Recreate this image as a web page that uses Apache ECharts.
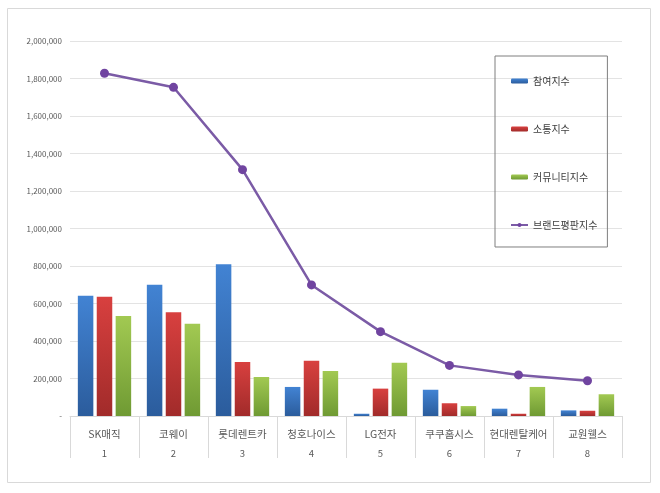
<!DOCTYPE html>
<html><head><meta charset="utf-8">
<script src="https://cdn.jsdelivr.net/npm/echarts@6/dist/echarts.min.js"></script>
<style>html,body{margin:0;padding:0;background:#fff}#c{width:660px;height:493px}</style>
</head><body><div id="c"></div>
<script>
const categories = ['SK매직','코웨이','롯데렌트카','청호나이스','LG전자','쿠쿠홈시스','현대렌탈케어','교원웰스'];
const ranks = ['1','2','3','4','5','6','7','8'];
const participation = [641000, 700000, 809000, 155000, 12000, 140000, 39000, 30000];
const communication = [636000, 553000, 288000, 295000, 146000, 68000, 12000, 28000];
const community = [533000, 492000, 208000, 240000, 284000, 53000, 155000, 116000];
const brandIndex = [1828000, 1753000, 1314000, 699000, 450000, 270000, 219000, 188000];
const seriesNames = ['참여지수','소통지수','커뮤니티지수','브랜드평판지수'];

const grad = (a, b) => new echarts.graphic.LinearGradient(0, 0, 0, 1, [{offset: 0, color: a}, {offset: 1, color: b}]);
const font = '"Noto Sans CJK KR", "Noto Sans", sans-serif';
const chart = echarts.init(document.getElementById('c'));
chart.setOption({
  animation: false,
  textStyle: {fontFamily: font},
  graphic: [{type: 'rect', shape: {x: 7.5, y: 8.5, width: 643, height: 474}, style: {fill: 'none', stroke: '#d9d9d9', lineWidth: 1}, silent: true, z: -1}],
  grid: {left: 70, right: 38, top: 41, bottom: 77},
  legend: {
    orient: 'vertical', left: 495, top: 56,
    data: seriesNames,
    itemWidth: 17, itemHeight: 5, itemGap: 38,
    padding: [20, 10, 17, 15],
    borderColor: '#7f7f7f', borderWidth: 1,
    textStyle: {fontSize: 10, color: '#404040', fontFamily: font}
  },
  xAxis: {
    type: 'category', data: categories,
    axisLine: {lineStyle: {color: '#d9d9d9'}},
    axisTick: {show: true, length: 42, interval: 0, lineStyle: {color: '#d9d9d9'}},
    axisLabel: {
      interval: 0, margin: 9,
      formatter: (v, i) => '{a|' + v + '}\n{b|' + ranks[i] + '}',
      rich: {
        a: {fontSize: 10.5, color: '#595959', lineHeight: 19, fontFamily: font},
        b: {fontSize: 9.5, color: '#595959', lineHeight: 19, fontFamily: font}
      }
    }
  },
  yAxis: {
    type: 'value', min: 0, max: 2000000, interval: 200000,
    axisLine: {show: false}, axisTick: {show: false},
    splitLine: {lineStyle: {color: '#e3e3e3'}},
    axisLabel: {fontSize: 8, color: '#595959', margin: 8,
      formatter: v => v === 0 ? '-' : v.toLocaleString('en-US')}
  },
  series: [
    {name: seriesNames[0], type: 'bar', data: participation, barWidth: 15.5, barGap: '22%',
     itemStyle: {color: grad('#4283d3', '#2b5c9c')}},
    {name: seriesNames[1], type: 'bar', data: communication, barWidth: 15.5, barGap: '22%',
     itemStyle: {color: grad('#d8403f', '#a12b2a')}},
    {name: seriesNames[2], type: 'bar', data: community, barWidth: 15.5, barGap: '22%',
     itemStyle: {color: grad('#a2c952', '#6f9a33')}},
    {name: seriesNames[3], type: 'line', data: brandIndex, symbol: 'circle', symbolSize: 9,
     lineStyle: {color: '#7b5ba6', width: 2.5},
     itemStyle: {color: '#7044a0'}}
  ]
});
</script></body></html>
